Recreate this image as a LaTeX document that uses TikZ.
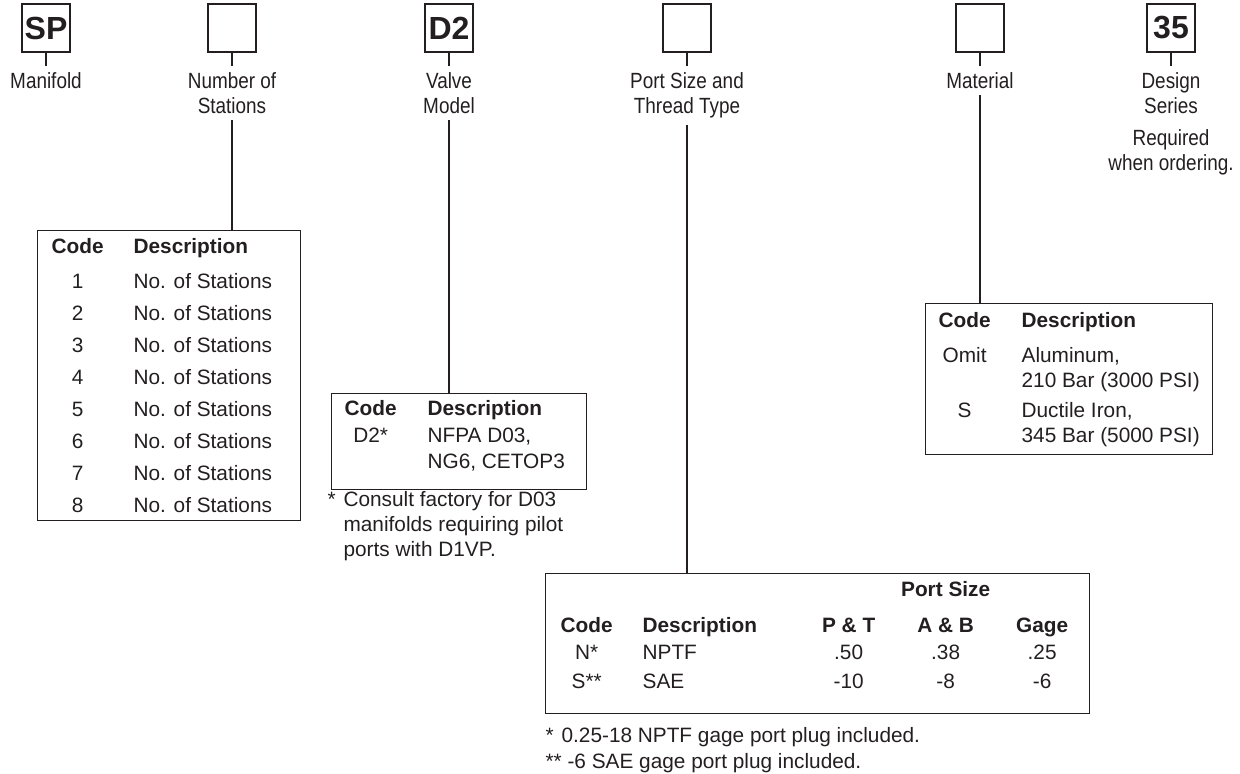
\documentclass[tikz,border=0pt]{standalone}
\usepackage{fontspec}
\usepackage{array}
\setmainfont{Liberation Sans}
\newfontfamily\partfont[FakeStretch=0.86]{Liberation Sans}
\usetikzlibrary{positioning}
\definecolor{ink}{HTML}{231F20}
\newcolumntype{C}[1]{>{\centering\arraybackslash}p{#1}}

\begin{document}
\begin{tikzpicture} [
        x=0.5pt, y=-0.5pt,
        color=ink, line width=0.6pt,
        codebox/.style={draw, line width=0.8pt, rectangle, minimum size=24pt, inner sep=0pt,
            font=\fontsize{16}{16}\selectfont\bfseries},
        partname/.style={inner xsep=0pt, inner ysep=3pt, align=center,
            font=\partfont\fontsize{11}{12.5}\selectfont},
        codetable/.style={draw, line width=0.65pt, inner sep=0pt, anchor=north west,
            font=\fontsize{10.4}{13}\selectfont},
        note/.style={inner sep=0pt, anchor=base west, font=\fontsize{10.4}{12.5}\selectfont},
        node distance=6.5pt ]
    \useasboundingbox (0,0) rectangle (1240,774);

    % ordering code boxes
    \node[codebox] (sp) at (46,28) {SP};
    \node[codebox] (num) at (232,28) {};
    \node[codebox] (valve) at (449,28) {D2};
    \node[codebox] (port) at (687,28) {};
    \node[codebox] (mat) at (980,28) {};
    \node[codebox] (series) at (1171,28) {35};

    % names under the boxes
    \node[partname, below=of sp] (sp name) {Manifold};
    \node[partname, below=of num] (num name) {Number of\\Stations};
    \node[partname, below=of valve] (valve name) {Valve\\Model};
    \node[partname, below=of port] (port name) {Port Size and\\Thread Type};
    \node[partname, below=of mat] (mat name) {Material};
    \node[partname, below=of series] (series name) {Design\\Series};
    \node[partname, below=1.5pt of series name] (series note) {Required\\when ordering.};
    \foreach \b in {sp, num, valve, port, mat, series}
        \draw (\b) -- (\b\space name);

    % number of stations
    \node[codetable] (num table) at (37,230) {%
        \begin{tabular}{@{}C{40pt}@{\hspace{8pt}}p{83.5pt}@{}}
        \rule{0pt}{11.5pt}\bfseries Code & \bfseries Description\\[4.5pt]
        1 & No. of Stations\\[3pt]
        2 & No. of Stations\\[3pt]
        3 & No. of Stations\\[3pt]
        4 & No. of Stations\\[3pt]
        5 & No. of Stations\\[3pt]
        6 & No. of Stations\\[3pt]
        7 & No. of Stations\\[3pt]
        8 & No. of Stations\rule[-4pt]{0pt}{4pt}
        \end{tabular}};
    \draw (num name) -- (num name |- num table.north);

    % valve model
    \node[codetable] (valve table) at (331,393) {%
        \begin{tabular}{@{}C{39pt}@{\hspace{9pt}}p{79.5pt}@{}}
        \rule{0pt}{11pt}\bfseries Code & \bfseries Description\\[0.5pt]
        D2* & NFPA D03,\\
         & NG6, CETOP3\rule[-10.5pt]{0pt}{10.5pt}
        \end{tabular}};
    \draw (valve name) -- (valve name |- valve table.north);
    \node[note] (valve note) at (327,506) {%
        \begin{tabular}[t]{@{}p{8pt}@{}l@{}}
        * & Consult factory for D03\\
         & manifolds requiring pilot\\
         & ports with D1VP.
        \end{tabular}};

    % port size and thread type
    \node[codetable] (port table) at (545,573) {%
        \begin{tabular}{@{}C{41pt}@{\hspace{7.5pt}}p{79pt}@{}C{48pt}@{}C{49pt}@{}C{47.5pt}@{}}
        \rule{0pt}{11.5pt} & & & \bfseries Port Size & \\[5pt]
        \bfseries Code & \bfseries Description & \bfseries P \& T & \bfseries A \& B & \bfseries Gage\\[0.5pt]
        N* & NPTF & .50 & .38 & .25\\[1.5pt]
        S** & SAE & -10 & -8 & -6\rule[-12.5pt]{0pt}{12.5pt}
        \end{tabular}};
    \draw (port name) -- (port name |- port table.north);
    \node[note, font=\fontsize{10.4}{13}\selectfont] (port note) at (545,742) {%
        \begin{tabular}[t]{@{}p{8pt}@{}l@{}}
        * & 0.25-18 NPTF gage port plug included.\\
        \multicolumn{2}{@{}l@{}}{** -6 SAE gage port plug included.}
        \end{tabular}};

    % material
    \node[codetable] (mat table) at (925,303) {%
        \begin{tabular}{@{}C{39pt}@{\hspace{9pt}}p{95.5pt}@{}}
        \rule{0pt}{12pt}\bfseries Code & \bfseries Description\\[4.5pt]
        Omit & Aluminum,\\[-0.5pt]
         & 210 Bar (3000 PSI)\\[2pt]
        S & Ductile Iron,\\[-0.5pt]
         & 345 Bar (5000 PSI)\rule[-6pt]{0pt}{6pt}
        \end{tabular}};
    \draw (mat name) -- (mat name |- mat table.north);
\end{tikzpicture}
\end{document}
